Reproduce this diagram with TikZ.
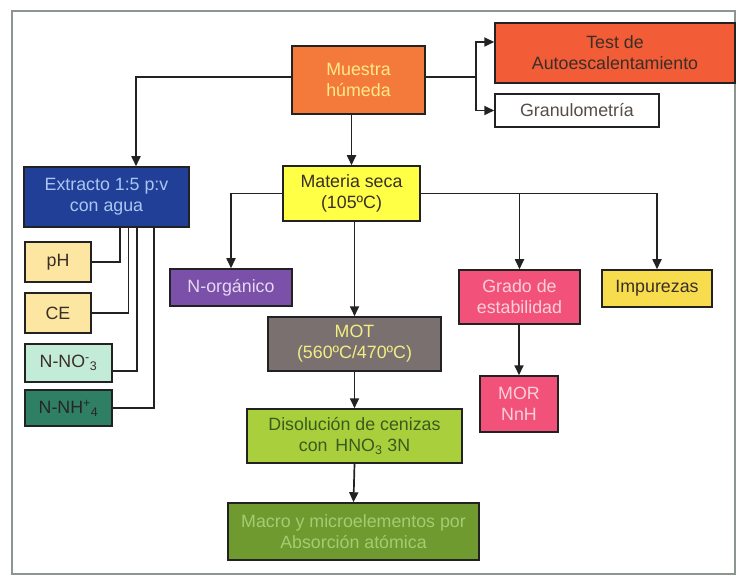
\documentclass[tikz,border=0pt]{standalone}
\usepackage{fontspec}
\setmainfont{Liberation Sans}
\usetikzlibrary{arrows.meta}

\definecolor{linea}{HTML}{222222}
\definecolor{marco}{HTML}{8C968F}
\definecolor{cmuestra}{HTML}{F47A3C}
\definecolor{ctest}{HTML}{F25C36}
\definecolor{cextracto}{HTML}{213F96}
\definecolor{cseca}{HTML}{FFFF45}
\definecolor{corg}{HTML}{7A50A8}
\definecolor{cmot}{HTML}{7A7070}
\definecolor{cgrado}{HTML}{F2527A}
\definecolor{cimp}{HTML}{F7DC4E}
\definecolor{cph}{HTML}{FCE6A2}
\definecolor{cnitra}{HTML}{C2EBD8}
\definecolor{camon}{HTML}{2F7F64}
\definecolor{cdis}{HTML}{A9D03C}
\definecolor{cmacro}{HTML}{6F9A30}
\definecolor{tclaro}{HTML}{FFE98A}
\definecolor{tazul}{HTML}{A9C6F2}
\definecolor{tlila}{HTML}{E6D8F2}
\definecolor{tmot}{HTML}{F2EE84}
\definecolor{trosa}{HTML}{FBD0DA}
\definecolor{tverde}{HTML}{3A5A1E}
\definecolor{tmacro}{HTML}{A4CC72}
\definecolor{toscuro}{HTML}{3A2E28}

\begin{document}
\begin{tikzpicture}[x=1pt,y=-1pt,
    caja/.style={draw=linea,line width=1.5pt,inner sep=0pt,align=center,
      font=\fontsize{17.8}{21}\selectfont},
    flecha/.style={-{Triangle[length=10pt,width=9pt]}}]

      \useasboundingbox (0,0) rectangle (736,577);
      \draw[marco,line width=1.2pt] (12,11) rectangle (735,574);

      \begin{scope}[every node/.style={caja}]
        \node[fill=cmuestra,text=tclaro,minimum width=133pt,minimum height=68pt] (muestra) at (358.5,80) {Muestra\\húmeda};
        \node[fill=ctest,text=toscuro,minimum width=240pt,minimum height=60pt] (test) at (615,53) {Test de\\Autoescalentamiento};
        \node[fill=white,text=toscuro!85,minimum width=164pt,minimum height=33pt] (gran) at (577,110.5) {Granulometría};
        \node[fill=cextracto,text=tazul,minimum width=165pt,minimum height=60pt] (extracto) at (106.5,197) {Extracto 1:5 p:v\\con agua};
        \node[fill=cseca,text=toscuro,minimum width=137pt,minimum height=55pt] (seca) at (351.5,193.5) {Materia seca\\(105ºC)};
        \node[fill=corg,text=tlila,minimum width=122pt,minimum height=37pt] (norg) at (231,287.5) {N-orgánico};
        \node[fill=cmot,text=tmot,minimum width=173pt,minimum height=54pt] (mot) at (354.5,344) {MOT\\(560ºC/470ºC)};
        \node[fill=cdis,text=tverde,minimum width=215pt,minimum height=54pt] (disol) at (354.5,436) {Disolución de cenizas\\con\, HNO\textsubscript{3} 3N};
        \node[fill=cmacro,text=tmacro,minimum width=251pt,minimum height=57pt] (macro) at (353.5,531.5) {Macro y microelementos por\\Absorción atómica};
        \node[fill=cgrado,text=trosa,minimum width=121pt,minimum height=54pt] (grado) at (519.5,297) {Grado de\\estabilidad};
        \node[fill=cgrado,text=trosa,minimum width=78pt,minimum height=56pt] (mor) at (519,404) {MOR\\NnH};
        \node[fill=cimp,text=toscuro,minimum width=110pt,minimum height=37pt] (imp) at (657,288.5) {Impurezas};
        \node[fill=cph,text=toscuro,minimum width=66pt,minimum height=40pt] (ph) at (58,262) {pH};
        \node[fill=cph,text=toscuro,minimum width=66pt,minimum height=40pt] (ce) at (58,313) {CE};
        \node[fill=cnitra,text=toscuro,minimum width=87pt,minimum height=38pt] (nitra) at (68.5,363) {N-NO\textsuperscript{-}\textsubscript{3}};
        \node[fill=camon,text=black!85,minimum width=87pt,minimum height=36pt] (amon) at (68.5,408) {N-NH\textsuperscript{+}\textsubscript{4}};
      \end{scope}

      \begin{scope}[draw=linea,line width=1.7pt]
        % muestra humeda
        \draw[flecha] ([yshift=3pt]muestra.west) -| ([xshift=29.5pt]extracto.north);
        \draw[flecha] (seca.north |- muestra.south) -- (seca.north);
        \draw ([yshift=3pt]muestra.east) -- ++(50,0) coordinate (rama);
        \draw[flecha] (rama) |- ([yshift=11pt]test.west);
        \draw[flecha] (rama) |- (gran.west);

        % materia seca
        \draw[flecha] (seca.west) -| (norg.north);
        \draw[flecha] (seca.east) -| (imp.north);
        \draw[flecha] (grado.north |- seca.east) -- (grado.north);
        \draw[flecha] (mot.north |- seca.south) -- (mot.north);
        \draw[flecha] (mot.south) -- (disol.north);
        \draw[flecha] (disol.south) -- (macro.north);
        \draw[flecha] (mor.north |- grado.south) -- (mor.north);

        % extracto
        \draw (ph.east) -| ([xshift=13.5pt]extracto.south);
        \draw (ce.east) -| ([xshift=22pt]extracto.south);
        \draw ([yshift=-8pt]nitra.east) -| ([xshift=30.5pt]extracto.south);
        \draw (amon.east) -| ([xshift=47.5pt]extracto.south);
      \end{scope}

    \end{tikzpicture}
\end{document}
